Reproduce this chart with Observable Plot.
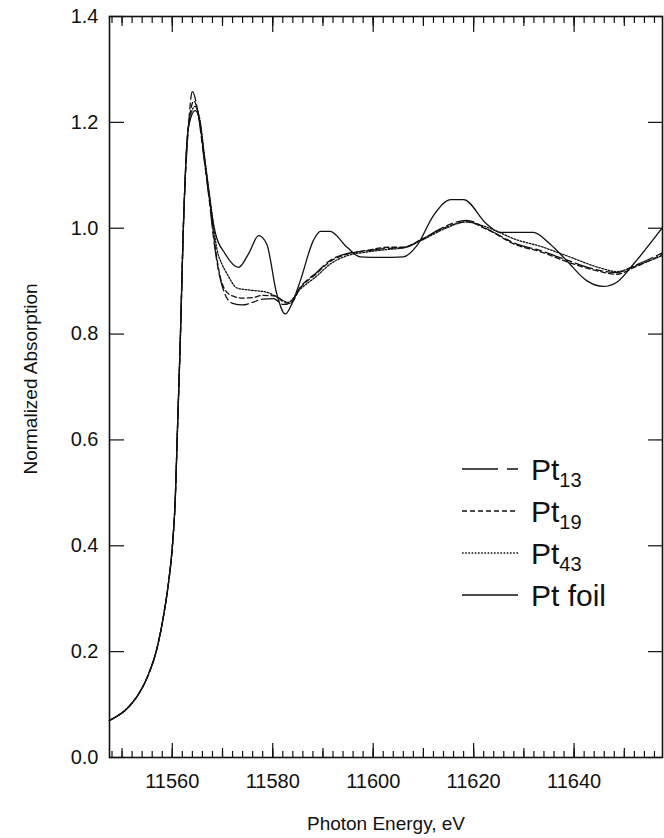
<!DOCTYPE html>
<html>
<head>
<meta charset="utf-8">
<script src="https://cdn.jsdelivr.net/npm/d3@7"></script>
<script src="https://cdn.jsdelivr.net/npm/@observablehq/plot@0.6"></script>
<style>
  html, body { margin: 0; padding: 0; background: #fff; }
  #wrap { position: relative; width: 664px; height: 838px; font-family: "Liberation Sans", Arial, sans-serif; }
  #legend { position: absolute; left: 0; top: 0; }
</style>
</head>
<body>
<div id="wrap"></div>
<script>
// ---- data ----
const xTicks = [11560, 11580, 11600, 11620, 11640];
const yTicks = [0.0, 0.2, 0.4, 0.6, 0.8, 1.0, 1.2, 1.4];

// common absorption edge (all four curves overlap here)
const edgeE = [11547.5, 11549, 11550.6, 11552, 11553.3, 11555.3, 11557, 11558.3, 11559.3, 11560, 11560.6, 11561.0, 11561.6, 11562.2, 11563.2];
const edgeA = [0.070, 0.078, 0.089, 0.103, 0.120, 0.158, 0.208, 0.270, 0.334, 0.397, 0.490, 0.610, 0.790, 1.000, 1.190];

const pt13E = [11564.0, 11565.0, 11566.2, 11567.4, 11568.3, 11569.3, 11570.5, 11572, 11574, 11576, 11578, 11580.2, 11582, 11583.3, 11585.5, 11588.8, 11591.4, 11594.8, 11598.7, 11603, 11606, 11609.4, 11614, 11618.6, 11622.6, 11628.6, 11633.2, 11638.5, 11645.2, 11648.5, 11652, 11657.5];
const pt13A = [1.258, 1.225, 1.140, 1.050, 0.975, 0.915, 0.875, 0.858, 0.855, 0.860, 0.866, 0.867, 0.856, 0.857, 0.889, 0.917, 0.939, 0.952, 0.957, 0.962, 0.963, 0.977, 1.002, 1.015, 0.999, 0.970, 0.958, 0.940, 0.920, 0.916, 0.929, 0.953];

const pt19E = [11564.3, 11565.2, 11566.3, 11567.5, 11568.4, 11569.5, 11570.6, 11572, 11574, 11576, 11578, 11580.5, 11582.3, 11583.5, 11585.5, 11588.8, 11591.4, 11594.8, 11598.7, 11603, 11606, 11609.4, 11614, 11618.6, 11622.6, 11628.6, 11633.2, 11638.5, 11645.2, 11648.5, 11652, 11657.5];
const pt19A = [1.240, 1.215, 1.140, 1.050, 0.975, 0.910, 0.882, 0.872, 0.868, 0.869, 0.873, 0.872, 0.860, 0.858, 0.887, 0.915, 0.937, 0.951, 0.958, 0.964, 0.964, 0.978, 1.000, 1.012, 0.998, 0.968, 0.956, 0.937, 0.918, 0.913, 0.926, 0.950];

const pt43E = [11564.5, 11565.5, 11566.5, 11567.6, 11568.9, 11570.0, 11570.9, 11572.9, 11575.5, 11578.8, 11581.2, 11583, 11585.5, 11588.8, 11591.4, 11594.8, 11598.7, 11603, 11606, 11609.4, 11614, 11618.6, 11622.6, 11628.6, 11633.2, 11638.5, 11645.2, 11648.5, 11652, 11657.5];
const pt43A = [1.230, 1.205, 1.130, 1.050, 0.960, 0.930, 0.914, 0.887, 0.883, 0.879, 0.868, 0.860, 0.885, 0.910, 0.932, 0.948, 0.955, 0.960, 0.963, 0.976, 0.998, 1.012, 1.002, 0.978, 0.966, 0.948, 0.925, 0.918, 0.928, 0.948];

const foilE = [11564.6, 11565.5, 11566.4, 11567.2, 11568.6, 11570.5, 11573.2, 11575.2, 11577.2, 11578.8, 11580.8, 11582.5, 11583.8, 11585.5, 11588.1, 11589.5, 11591.4, 11594.8, 11597.4, 11601.5, 11606, 11608.7, 11612, 11615.5, 11618, 11622.6, 11625.3, 11631.9, 11635.2, 11638.5, 11642.5, 11645.8, 11648.5, 11651.8, 11657.5];
const foilA = [1.222, 1.200, 1.130, 1.070, 0.990, 0.952, 0.926, 0.952, 0.986, 0.970, 0.876, 0.838, 0.857, 0.901, 0.977, 0.994, 0.994, 0.964, 0.946, 0.945, 0.946, 0.967, 1.024, 1.054, 1.054, 1.008, 0.992, 0.992, 0.970, 0.939, 0.901, 0.890, 0.898, 0.932, 1.000];

const seriesNames = ["Pt13", "Pt19", "Pt43", "Pt foil"];
const seriesDash = ["18,4,6,4", "5,3", "1.6,1.6", null];

// ---- build table ----
function build(name, E, A) {
  const pts = edgeE.map((e, i) => ({name, e, a: edgeA[i]}));
  return pts.concat(E.map((e, i) => ({name, e, a: A[i]})));
}
const seriesData = [
  build("Pt13", pt13E, pt13A),
  build("Pt19", pt19E, pt19A),
  build("Pt43", pt43E, pt43A),
  build("Pt foil", foilE, foilA)
];

const W = 664, H = 838, mT = 16, mB = 81, mL = 109, mR = 2;
const plotH = H - mT - mB;
const ink = "#111";

const minorX = d3.range(11548, 11658, 2);
const midX = d3.range(11550, 11658, 10);

const lineMarks = seriesData.map((d, i) => Plot.line(d, {
  x: "e", y: "a", stroke: ink, strokeWidth: 1.3,
  strokeDasharray: seriesDash[i], curve: "monotone-x"
}));

const chart = Plot.plot({
  width: W, height: H,
  marginTop: mT, marginBottom: mB, marginLeft: mL, marginRight: mR,
  style: {fontFamily: "'Liberation Sans', Arial, sans-serif", background: "#fff", color: ink},
  x: {domain: [11547.5, 11657.6]},
  y: {domain: [0, 1.4]},
  marks: [
    // inward ticks: bottom
    Plot.ruleX(minorX, {stroke: ink, strokeWidth: 1.2, insetTop: plotH - 6}),
    Plot.ruleX(midX, {stroke: ink, strokeWidth: 1.2, insetTop: plotH - 9}),
    Plot.ruleX(xTicks, {stroke: ink, strokeWidth: 1.2, insetTop: plotH - 14}),
    // inward ticks: top
    Plot.ruleX(minorX, {stroke: ink, strokeWidth: 1.2, insetBottom: plotH - 7}),
    Plot.ruleX(midX, {stroke: ink, strokeWidth: 1.2, insetBottom: plotH - 10}),
    Plot.ruleX(xTicks, {stroke: ink, strokeWidth: 1.2, insetBottom: plotH - 16}),
    // inward ticks: left and right
    Plot.ruleY(yTicks, {stroke: ink, strokeWidth: 1.2, insetRight: (W - mL - mR) - 15}),
    Plot.ruleY(yTicks, {stroke: ink, strokeWidth: 1.2, insetLeft: (W - mL - mR) - 14}),
    Plot.axisX({ticks: xTicks, tickSize: 0, tickPadding: 16, fontSize: 20, label: null, tickFormat: d => String(d)}),
    Plot.axisY({ticks: yTicks, tickSize: 0, tickPadding: 11, fontSize: 20, label: null, tickFormat: d3.format(".1f")}),
    ...lineMarks,
    Plot.frame({stroke: ink, strokeWidth: 1.6}),
    Plot.text(["Photon Energy, eV"], {frameAnchor: "bottom", textAnchor: "middle", lineAnchor: "middle", dy: 66, fontSize: 19, fill: ink}),
    Plot.text(["Normalized Absorption"], {frameAnchor: "left", textAnchor: "middle", lineAnchor: "middle", rotate: -90, dx: -79, dy: -8, fontSize: 19, fill: ink})
  ]
});

const wrap = document.getElementById("wrap");
wrap.appendChild(chart);

// ---- legend (overlay) ----
const legendRows = [
  {base: "Pt", sub: "13", dash: "36,9,11,30"},
  {base: "Pt", sub: "19", dash: seriesDash[1]},
  {base: "Pt", sub: "43", dash: seriesDash[2]},
  {base: "Pt foil", sub: "", dash: null}
];
const leg = d3.select(wrap).append("svg")
  .attr("id", "legend").attr("width", W).attr("height", H)
  .style("pointer-events", "none");
legendRows.forEach((r, i) => {
  const yLine = 469 + i * 42;
  leg.append("line")
    .attr("x1", 462).attr("x2", 518).attr("y1", yLine).attr("y2", yLine)
    .attr("stroke", ink).attr("stroke-width", 1.3)
    .attr("stroke-dasharray", r.dash);
  const t = leg.append("text")
    .attr("x", 531).attr("y", yLine + 11)
    .attr("font-family", "'Liberation Sans', Arial, sans-serif")
    .attr("font-size", 30).attr("fill", ink);
  t.append("tspan").text(r.base);
  if (r.sub) t.append("tspan").attr("dy", 7).attr("font-size", 20).text(r.sub);
});
</script>
</body>
</html>
